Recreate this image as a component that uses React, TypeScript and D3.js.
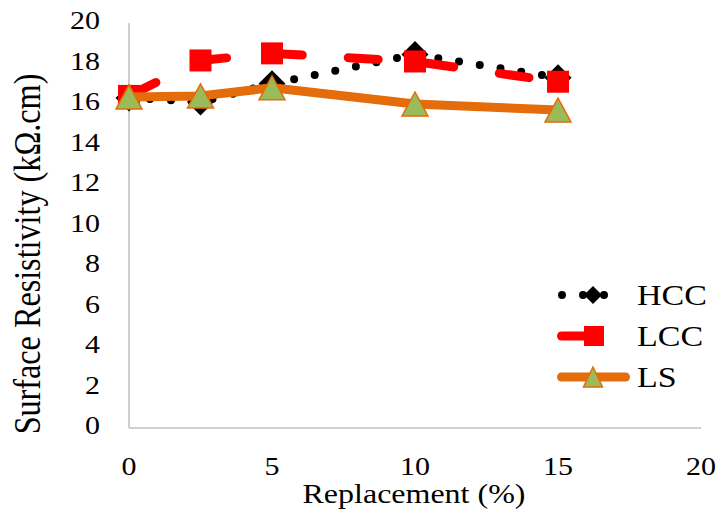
import React from 'react';
import * as d3 from 'd3';

const xValues = [0, 2.5, 5, 10, 15];
const hccValues = [16.3, 16.1, 17.0, 18.45, 17.3];
const lccValues = [16.4, 18.15, 18.5, 18.1, 17.1];
const lsValues = [16.35, 16.4, 16.8, 16.0, 15.7];
const xTicks = [0, 5, 10, 15, 20];
const yTicks = [0, 2, 4, 6, 8, 10, 12, 14, 16, 18, 20];
const seriesNames = ['HCC', 'LCC', 'LS'];
const xTitle = 'Replacement (%)';
const yTitle = 'Surface Resistivity (kΩ.cm)';

const FONT = 'Liberation Serif, Tinos, Times New Roman, DejaVu Serif, serif';
const VS = 0.87;
const ORANGE = '#E46C0A';
const GREEN = '#9BBB59';
const RED = '#FF0000';
const AXIS = '#BFBFBF';

function diamond(cx: number, cy: number, r: number) {
  return `M${cx},${cy - r}L${cx + r},${cy}L${cx},${cy + r}L${cx - r},${cy}Z`;
}
function triangle(cx: number, cy: number, w: number, h: number) {
  return `M${cx},${cy - h / 2}L${cx + w / 2},${cy + h / 2}L${cx - w / 2},${cy + h / 2}Z`;
}

const txt: React.CSSProperties = { fontFamily: FONT };

export default function App() {
  const W = 721;
  const H = 523;
  const x = d3.scaleLinear().domain([0, 20]).range([129, 701]);
  const y = d3.scaleLinear().domain([0, 20]).range([428, 23]);
  const line = d3
    .line<[number, number]>()
    .x((d) => x(d[0]))
    .y((d) => y(d[1]));
  const pts = (vals: number[]) => xValues.map((v, i) => [v, vals[i]] as [number, number]);
  const hcc = pts(hccValues);
  const lcc = pts(lccValues);
  const ls = pts(lsValues);

  const legendRows = [295, 336, 377];
  const legendBaselines = [305, 346, 387];

  return (
    <svg width={W} height={H} style={{ position: 'absolute', left: 0, top: 0, background: '#fff' }}>
      <rect x={0} y={0} width={W} height={H} fill="#fff" />
      <line x1={x(0)} x2={x(0)} y1={y(20)} y2={y(0)} stroke={AXIS} strokeWidth={1.5} />
      <line x1={x(0)} x2={x(20)} y1={y(0)} y2={y(0)} stroke={AXIS} strokeWidth={1.5} />

      {yTicks.map((t) => (
        <text key={'y' + t} style={txt} transform={`translate(100, ${y(t) + 6}) scale(1, ${VS})`} textAnchor="end" fontSize={30} fill="#000">
          {t}
        </text>
      ))}
      {xTicks.map((t) => (
        <text key={'x' + t} style={txt} transform={`translate(${x(t)}, 475) scale(1, ${VS})`} textAnchor="middle" fontSize={30} fill="#000">
          {t}
        </text>
      ))}
      <text style={txt} transform={`translate(414, 503) scale(1, ${VS})`} textAnchor="middle" fontSize={32} fill="#000">
        {xTitle}
      </text>
      <text style={txt} transform={`translate(40, 254) scale(1, ${VS}) rotate(-90)`} textAnchor="middle" fontSize={37} fill="#000">
        {yTitle}
      </text>

      <path d={line(hcc) || ''} fill="none" stroke="#000" strokeWidth={8} strokeLinecap="round" strokeDasharray="0 21" />
      {hcc.map((d, i) => (
        <path key={'h' + i} d={diamond(x(d[0]), y(d[1]), 13.5)} fill="#000" />
      ))}
      <path d={line(lcc) || ''} fill="none" stroke={RED} strokeWidth={9} strokeLinecap="round" strokeDasharray="30 46" />
      {lcc.map((d, i) => (
        <rect key={'l' + i} x={x(d[0]) - 11} y={y(d[1]) - 11} width={22} height={22} fill={RED} />
      ))}
      <path d={line(ls) || ''} fill="none" stroke={ORANGE} strokeWidth={9} strokeLinecap="round" strokeLinejoin="round" />
      {ls.map((d, i) => (
        <path key={'s' + i} d={triangle(x(d[0]), y(d[1]), 26, 24)} fill={GREEN} stroke={ORANGE} strokeWidth={1.5} />
      ))}

      <line x1={562} x2={625} y1={legendRows[0]} y2={legendRows[0]} stroke="#000" strokeWidth={8} strokeLinecap="round" strokeDasharray="0 21" />
      <path d={diamond(593, legendRows[0], 9)} fill="#000" />
      <line x1={561.5} x2={625.5} y1={legendRows[1]} y2={legendRows[1]} stroke={RED} strokeWidth={9} strokeLinecap="round" strokeDasharray="30 46" />
      <rect x={584} y={legendRows[1] - 10} width={20} height={20} fill={RED} />
      <line x1={561.5} x2={625.5} y1={legendRows[2]} y2={legendRows[2]} stroke={ORANGE} strokeWidth={9} strokeLinecap="round" />
      <path d={triangle(593, legendRows[2], 19, 20)} fill={GREEN} stroke={ORANGE} strokeWidth={1.5} />
      {seriesNames.map((n, i) => (
        <text key={n} style={txt} transform={`translate(637, ${legendBaselines[i]}) scale(1, ${VS})`} fontSize={34} fill="#000">
          {n}
        </text>
      ))}
    </svg>
  );
}
